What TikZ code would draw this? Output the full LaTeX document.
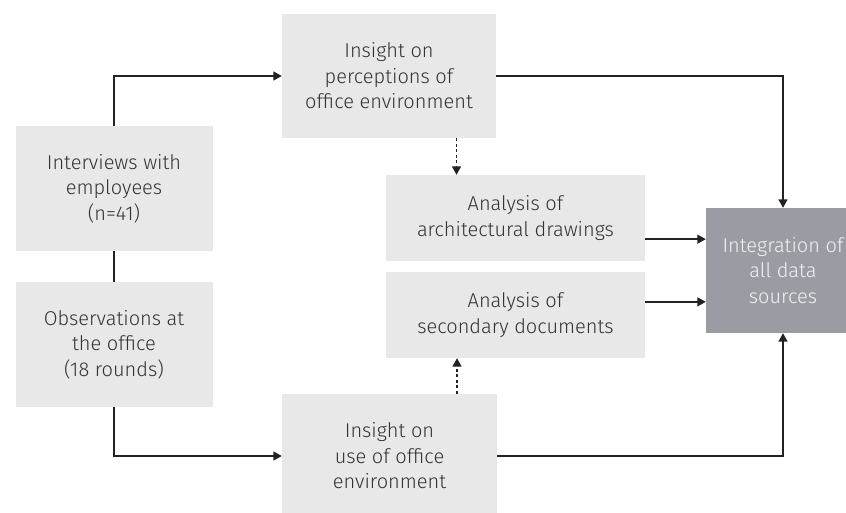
\documentclass[tikz,border=0pt]{standalone}
\usepackage{fontspec}
\setmainfont{Fira Sans}[UprightFont=* Light]
\usetikzlibrary{arrows.meta,calc}
\definecolor{boxgray}{HTML}{E8E8E8}
\definecolor{intgray}{HTML}{9B9CA3}
\definecolor{txt}{HTML}{333333}
\definecolor{inttxt}{HTML}{F2F2F2}
\definecolor{ln}{HTML}{222222}
\begin{document}
\begin{tikzpicture}[x=1pt,y=-1pt,
  box/.style={fill=boxgray, draw=none, text=txt, align=center, inner sep=0pt,
    font=\fontsize{20}{25.5}\selectfont},
  intbox/.style={box, fill=intgray, text=inttxt},
  plainline/.style={draw=ln, line width=1.5pt},
  conn/.style={plainline, -{Triangle[length=8.5pt,width=9pt]}},
  dotconn/.style={conn, dash pattern=on 3pt off 2.5pt}]
\useasboundingbox (0,0) rectangle (846,512);
\node[box, minimum width=214pt, minimum height=124pt] (top) at (389,76)
  {Insight on\\perceptions of\\office environment};
\node[box, minimum width=197pt, minimum height=125pt] (inter) at (114,188.5)
  {Interviews with\\employees\\(n=41)};
\node[box, minimum width=197pt, minimum height=125pt] (obs) at (114,344.5)
  {Observations at\\the office\\(18 rounds)};
\node[box, minimum width=259pt, minimum height=86pt] (arch) at (515.5,218)
  {Analysis of\\architectural drawings};
\node[box, minimum width=259pt, minimum height=86pt] (sec) at (515.5,315)
  {Analysis of\\secondary documents};
\node[box, minimum width=215pt, minimum height=124pt] (bot) at (389.5,456)
  {Insight on\\use of office\\environment};
\node[intbox, minimum width=154pt, minimum height=125pt] (integ) at (783,270.5)
  {Integration of\\all data\\sources};
\draw[conn] (inter.north) |- (top.west);
\draw[plainline] (inter.south) -- (obs.north);
\draw[conn] (obs.south) |- (bot.west);
\draw[conn] (top.east) -| (integ.north);
\draw[conn] (bot.east) -| (integ.south);
\coordinate (i1) at ($(integ.north west)!0.25!(integ.south west)$);
\coordinate (i2) at ($(integ.north west)!0.75!(integ.south west)$);
\draw[conn] (arch.east |- i1) -- (i1);
\draw[conn] (sec.east |- i2) -- (i2);
\coordinate (d1) at ([xshift=67.5pt]top.south);
\coordinate (d2) at ([xshift=67.5pt]bot.north);
\draw[dotconn] (d1) -- (d1 |- arch.north);
\draw[dotconn] (d2) -- (d2 |- sec.south);
\end{tikzpicture}
\end{document}
